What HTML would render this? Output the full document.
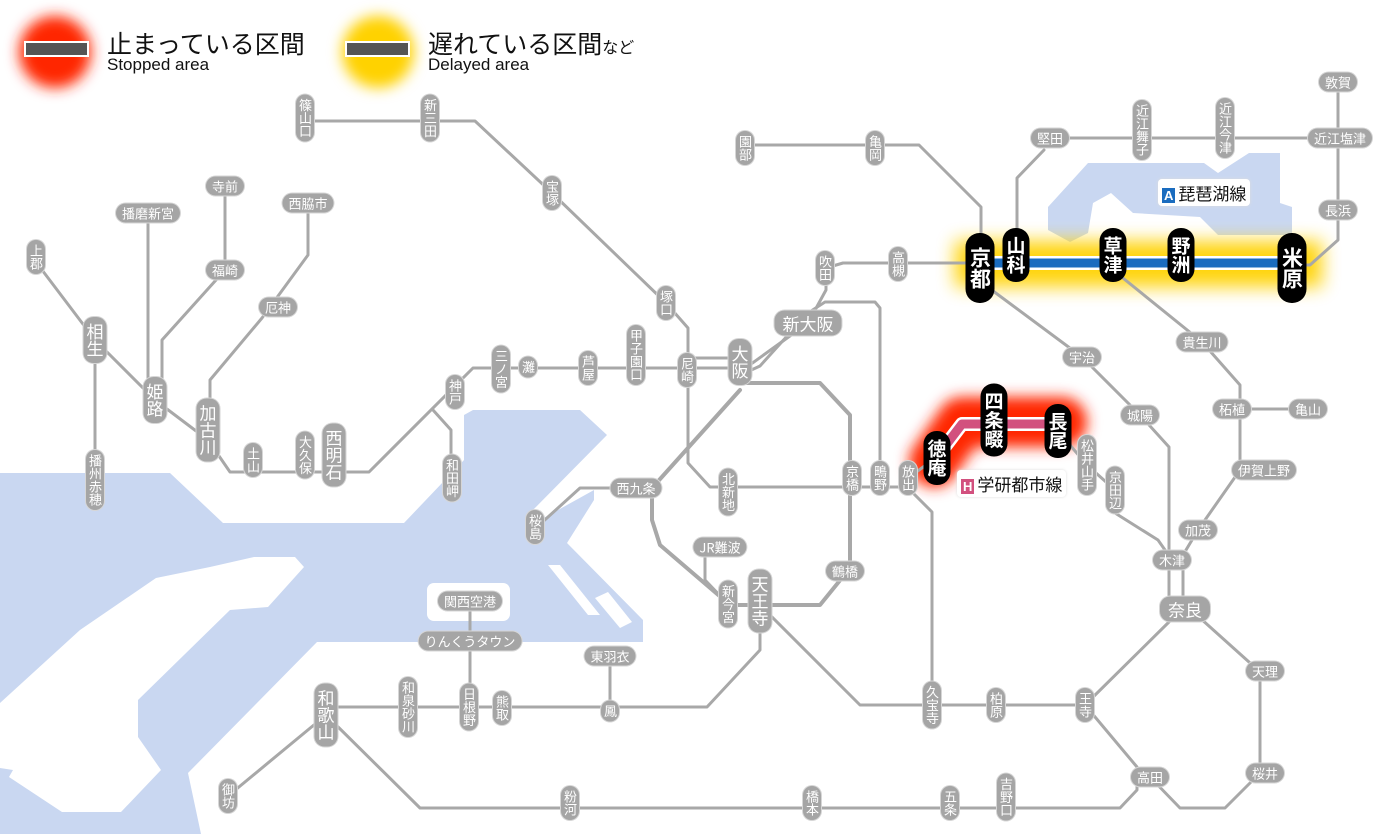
<!DOCTYPE html>
<html><head><meta charset="utf-8">
<style>
body{margin:0;width:1400px;height:834px;background:#fff;overflow:hidden;position:relative;font-family:"Liberation Sans","Noto Sans CJK JP",sans-serif}
svg{position:absolute;left:0;top:0}
.s{position:absolute;transform:translate(-50%,-50%);background:#a5a5a5;color:#fff;border-radius:10px;font-size:13px;line-height:14px;padding:4px 2px;writing-mode:vertical-rl;text-orientation:upright;box-shadow:0 0 0 1px #d6d6d6;white-space:nowrap;font-family:"Noto Sans CJK JP",sans-serif}
.h{writing-mode:horizontal-tb;padding:2px 6px;line-height:15px}
.L{font-size:17px;line-height:19px;padding:6px 2px}
.Lh{font-size:17px;line-height:19px;padding:3px 8px}
.b{background:#000;font-size:19px;line-height:21px;padding:8px 3px;border-radius:13px;font-weight:bold;box-shadow:none}
.bb{font-size:21px;line-height:23px;padding:14px 3px;border-radius:14px}
.lab{position:absolute;background:#fff;border-radius:4px;font-size:17px;padding:1px 4px;box-shadow:0 0 3px #ddd;font-family:"Noto Sans CJK JP",sans-serif;color:#111;white-space:nowrap}
.lab i{font-style:normal;color:#fff;font-size:13px;padding:0 2px;margin-right:3px;font-family:"Liberation Sans",sans-serif;font-weight:bold}
.lg{position:absolute;font-family:"Liberation Sans","Noto Sans CJK JP",sans-serif;color:#111;white-space:nowrap}
</style></head><body>
<svg width="1400" height="834" viewBox="0 0 1400 834">
<defs>
<filter id="bl" filterUnits="userSpaceOnUse" x="0" y="0" width="1400" height="834"><feGaussianBlur stdDeviation="9"/></filter>
<filter id="bl2" filterUnits="userSpaceOnUse" x="0" y="0" width="1400" height="834"><feGaussianBlur stdDeviation="7"/></filter>
</defs>
<!-- water -->
<g fill="#c9d7f1">
<polygon points="0,473 170,473 223,523 404,523 464,460 464,415 473,410 580,410 607,435 531,512 531,525 594,490 594,500 567,543 643,620 643,642 317,642 188,773 201,834 0,834"/>
<polygon points="1048,207 1088,163 1204,163 1218,173 1249,153 1280,153 1280,203 1292,207 1292,235 1218,235 1200,217 1133,213 1111,193 1093,203 1088,233 1070,242 1048,230"/>
</g>
<g fill="#fff">
<polygon points="210,567 254,557 295,557 304,567 268,607 230,610 138,700 138,737 161,770 121,812 62,812 9,777 13,770 0,768 0,703 80,630 156,578"/>
<rect x="427" y="583" width="83" height="38" rx="7"/>
<polygon points="548,565 560,565 600,615 588,615"/>
<polygon points="595,598 608,592 632,622 620,628"/>
</g>
<!-- glows -->
<path d="M955,264 H1322" stroke="#ffd200" stroke-width="46" fill="none" filter="url(#bl)" opacity="0.95"/>
<path d="M934,462 L962,422 H1062" stroke="#ff2800" stroke-width="50" fill="none" stroke-linejoin="round" stroke-linecap="round" filter="url(#bl2)"/>
<!-- lines -->
<g fill="none" stroke="#a8a8a8" stroke-width="3" stroke-linejoin="round" stroke-linecap="round">
<path d="M305,121 H475 L552,193 L666,303 L688,328 V463 L710,487 H908"/>
<path d="M36,262 L95,340 L155,400 L208,440 L230,472 H369 L473,368 H740"/>
<path d="M433,410 L451,430 V478"/>
<path d="M95,340 V480"/>
<path d="M148,213 V400"/>
<path d="M225,186 V270 L162,340 V400"/>
<path d="M308,203 V255 L262,318 L210,380 V430"/>
<path d="M687,358 H740"/>
<path d="M740,372 L808,323 L826,290 V268 L843,263 H980"/>
<path d="M747,372 L760,366 L808,313 L825,302 H875 L880,308 V488"/>
<path d="M740,383 H820 L850,415 V568 L820,605 H730 L660,545 L652,520 V488 L740,390" stroke-width="4"/>
<path d="M652,488 H580 L537,527"/>
<path d="M705,547 V580 L728,604"/>
<path d="M760,605 V650 L707,707 H326"/>
<path d="M760,605 L860,705 H1085 L1171,620 H1185"/>
<path d="M908,488 L932,512 V705"/>
<path d="M1190,609 L1249,662 L1260,671 V773 L1225,808 H1180 L1150,777"/>
<path d="M1085,705 L1137,767 V790 L1120,808 H420 L326,715"/>
<path d="M326,715 L228,796"/>
<path d="M470,601 V707"/><path d="M610,656 V711"/>
<path d="M745,145 H919 L981,207 V268"/>
<path d="M1050,138 H1340"/>
<path d="M1044,150 L1017,178 V255"/>
<path d="M1338,82 V240 L1310,265 H1292"/>
<path d="M985,285 L1082,357 L1140,415 L1169,447 V609"/>
<path d="M1183,555 V609"/>
<path d="M1113,270 L1202,342 L1240,385 V470 L1198,530 L1183,555"/>
<path d="M1232,409 H1308"/>
<path d="M1058,431 L1087,465 L1115,490 V513 L1158,540 L1172,560"/>
<path d="M908,478 L937,457"/>
</g>
<!-- highlighted lines -->
<path d="M980,263 H1292" stroke="#fff" stroke-width="14" fill="none"/>
<path d="M980,263 H1292" stroke="#1a6cbf" stroke-width="9" fill="none"/>
<path d="M930,466 L962,424 H1058" stroke="#fff" stroke-width="14" fill="none" stroke-linejoin="round"/>
<path d="M930,466 L962,424 H1058" stroke="#d2507e" stroke-width="9" fill="none" stroke-linejoin="round"/>
<!-- legend -->
<circle cx="55" cy="52" r="36" fill="#ff2800" filter="url(#bl2)"/>
<circle cx="378" cy="52" r="36" fill="#ffd200" filter="url(#bl2)"/>
<rect x="25" y="42" width="63" height="14" fill="#555" stroke="#fff" stroke-width="2"/>
<rect x="346" y="42" width="63" height="14" fill="#555" stroke="#fff" stroke-width="2"/>
</svg>

<div class="lg" style="left:107px;top:25px;font-size:25px">止まっている区間</div>
<div class="lg" style="left:107px;top:55px;font-size:17px">Stopped area</div>
<div class="lg" style="left:428px;top:25px;font-size:25px">遅れている区間<span style="font-size:16px">など</span></div>
<div class="lg" style="left:428px;top:55px;font-size:17px">Delayed area</div>

<div class="lab" style="left:1158px;top:179px"><i style="background:#1a6cbf">A</i>琵琶湖線</div>
<div class="lab" style="left:957px;top:470px"><i style="background:#d2507e">H</i>学研都市線</div>

<div class="s" style="left:305px;top:118px">篠山口</div>
<div class="s" style="left:430px;top:118px">新三田</div>
<div class="s" style="left:552px;top:193px">宝塚</div>
<div class="s" style="left:745px;top:148px">園部</div>
<div class="s" style="left:875px;top:148px">亀岡</div>
<div class="s h" style="left:1050px;top:138px">堅田</div>
<div class="s" style="left:1142px;top:130px">近江舞子</div>
<div class="s" style="left:1225px;top:128px">近江今津</div>
<div class="s h" style="left:1338px;top:82px">敦賀</div>
<div class="s h" style="left:1340px;top:138px">近江塩津</div>
<div class="s h" style="left:1338px;top:210px">長浜</div>
<div class="s h" style="left:225px;top:186px">寺前</div>
<div class="s h" style="left:148px;top:213px">播磨新宮</div>
<div class="s h" style="left:308px;top:203px">西脇市</div>
<div class="s" style="left:36px;top:257px">上郡</div>
<div class="s h" style="left:225px;top:270px">福崎</div>
<div class="s h" style="left:278px;top:307px">厄神</div>
<div class="s" style="left:825px;top:268px">吹田</div>
<div class="s" style="left:898px;top:264px">高槻</div>
<div class="s" style="left:666px;top:303px">塚口</div>
<div class="s h Lh" style="left:808px;top:323px">新大阪</div>
<div class="s L" style="left:95px;top:340px">相生</div>
<div class="s L" style="left:155px;top:400px">姫路</div>
<div class="s L" style="left:208px;top:430px">加古川</div>
<div class="s" style="left:501px;top:369px">三ノ宮</div>
<div class="s" style="left:528px;top:367px">灘</div>
<div class="s" style="left:588px;top:368px">芦屋</div>
<div class="s" style="left:636px;top:355px">甲子園口</div>
<div class="s" style="left:687px;top:370px">尼崎</div>
<div class="s L" style="left:740px;top:362px">大阪</div>
<div class="s" style="left:455px;top:392px">神戸</div>
<div class="s h" style="left:1082px;top:357px">宇治</div>
<div class="s h" style="left:1202px;top:342px">貴生川</div>
<div class="s h" style="left:1140px;top:415px">城陽</div>
<div class="s h" style="left:1232px;top:409px">柘植</div>
<div class="s h" style="left:1308px;top:409px">亀山</div>
<div class="s" style="left:253px;top:460px">土山</div>
<div class="s" style="left:305px;top:455px">大久保</div>
<div class="s L" style="left:334px;top:455px">西明石</div>
<div class="s" style="left:452px;top:478px">和田岬</div>
<div class="s" style="left:95px;top:480px">播州赤穂</div>
<div class="s h" style="left:636px;top:488px">西九条</div>
<div class="s" style="left:728px;top:492px">北新地</div>
<div class="s" style="left:852px;top:478px">京橋</div>
<div class="s" style="left:880px;top:478px">鴫野</div>
<div class="s" style="left:908px;top:478px">放出</div>
<div class="s" style="left:1087px;top:465px">松井山手</div>
<div class="s" style="left:1115px;top:490px">京田辺</div>
<div class="s h" style="left:1264px;top:470px">伊賀上野</div>
<div class="s" style="left:535px;top:527px">桜島</div>
<div class="s h" style="left:1198px;top:530px">加茂</div>
<div class="s h" style="left:720px;top:547px">JR難波</div>
<div class="s h" style="left:1172px;top:560px">木津</div>
<div class="s h" style="left:845px;top:571px">鶴橋</div>
<div class="s" style="left:728px;top:604px">新今宮</div>
<div class="s L" style="left:760px;top:601px">天王寺</div>
<div class="s h Lh" style="left:1185px;top:609px">奈良</div>
<div class="s h" style="left:470px;top:601px">関西空港</div>
<div class="s h" style="left:470px;top:641px">りんくうタウン</div>
<div class="s h" style="left:610px;top:656px">東羽衣</div>
<div class="s h" style="left:1265px;top:671px">天理</div>
<div class="s L" style="left:326px;top:715px">和歌山</div>
<div class="s" style="left:408px;top:707px">和泉砂川</div>
<div class="s" style="left:469px;top:707px">日根野</div>
<div class="s" style="left:502px;top:708px">熊取</div>
<div class="s" style="left:610px;top:711px">鳳</div>
<div class="s" style="left:932px;top:705px">久宝寺</div>
<div class="s" style="left:996px;top:705px">柏原</div>
<div class="s" style="left:1085px;top:705px">王寺</div>
<div class="s h" style="left:1150px;top:777px">高田</div>
<div class="s h" style="left:1265px;top:773px">桜井</div>
<div class="s" style="left:228px;top:796px">御坊</div>
<div class="s" style="left:570px;top:803px">粉河</div>
<div class="s" style="left:812px;top:803px">橋本</div>
<div class="s" style="left:950px;top:803px">五条</div>
<div class="s" style="left:1006px;top:797px">吉野口</div>

<div class="s b bb" style="left:980px;top:268px">京都</div>
<div class="s b" style="left:1016px;top:255px">山科</div>
<div class="s b" style="left:1113px;top:255px">草津</div>
<div class="s b" style="left:1181px;top:255px">野洲</div>
<div class="s b bb" style="left:1292px;top:268px">米原</div>
<div class="s b" style="left:994px;top:420px">四条畷</div>
<div class="s b" style="left:1058px;top:431px">長尾</div>
<div class="s b" style="left:937px;top:458px">徳庵</div>
</body></html>
